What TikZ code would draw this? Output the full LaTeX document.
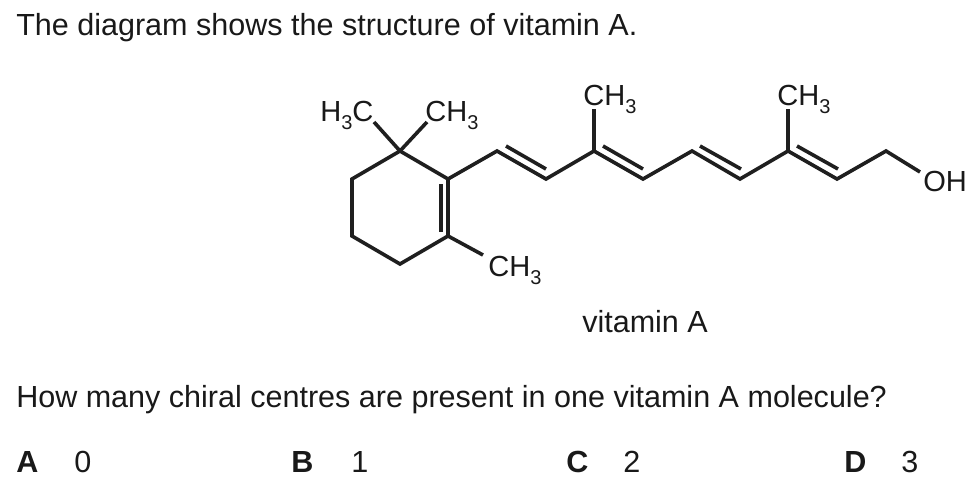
\documentclass[tikz,border=0pt]{standalone}
\usepackage{fontspec}
\setmainfont{Liberation Sans}
\newcommand{\subnum}{\raisebox{-0.55ex}{\fontsize{15}{16}\selectfont 3}}
\tikzset{
	txt/.style = {anchor=base west, inner sep=0pt, font=\fontsize{22.9}{26}\selectfont, text=black!90},
	choice/.style = {txt, font=\fontsize{22.9}{26}\selectfont\bfseries},
	grp/.style = {anchor=base west, inner sep=0pt, font=\fontsize{21.8}{24}\selectfont, text=black!90},
	atom/.style = {coordinate},
	bond/.style = {line width=2.7pt, draw=black!88, line join=miter, line cap=butt}
}
\begin{document}
\begin{tikzpicture}[x=0.75pt,y=-0.75pt]
	\useasboundingbox (0,0) rectangle (977,482);
	\fill[white] (0,0) rectangle (977,482);
	\node [txt] (title) at (16,35) {The diagram shows the structure of vitamin A.};
	\node [txt] (name) at (582,332) {vitamin A};
	\node [txt] (question) at (16,407) {How many chiral centres are present in one vitamin A molecule?};
	\node [choice] (la) at (16,472) {A};
	\node [txt] (va) at (74,472) {0};
	\node [choice] (lb) at (291,472) {B};
	\node [txt] (vb) at (351,472) {1};
	\node [choice] (lc) at (566,472) {C};
	\node [txt] (vc) at (623,472) {2};
	\node [choice] (ld) at (844,472) {D};
	\node [txt] (vd) at (901,472) {3};
	% ring
	\node [atom] (r1) at (400,151) {};
	\node [atom] (r2) at (448,179) {};
	\node [atom] (r3) at (448,236) {};
	\node [atom] (r4) at (400,264) {};
	\node [atom] (r5) at (352,236) {};
	\node [atom] (r6) at (352,179) {};
	% chain
	\node [atom] (c1) at (497,151) {};
	\node [atom] (c2) at (546,179) {};
	\node [atom] (c3) at (594,151) {};
	\node [atom] (c4) at (643,179) {};
	\node [atom] (c5) at (692,151) {};
	\node [atom] (c6) at (740,179) {};
	\node [atom] (c7) at (788,151) {};
	\node [atom] (c8) at (837,179) {};
	\node [atom] (c9) at (886,151) {};
	% second lines of the double bonds
	\node [atom] (d0a) at (441,184) {};
	\node [atom] (d0b) at (441,232) {};
	\node [atom] (d1a) at (506,146) {};
	\node [atom] (d1b) at (546,169) {};
	\node [atom] (d2a) at (603,146) {};
	\node [atom] (d2b) at (643,169) {};
	\node [atom] (d3a) at (700,146) {};
	\node [atom] (d3b) at (741,169) {};
	\node [atom] (d4a) at (797,146) {};
	\node [atom] (d4b) at (838,169) {};
	% ends of the side groups
	\node [atom] (e1) at (374,122) {};
	\node [atom] (e2) at (427,122) {};
	\node [atom] (e3) at (483,255) {};
	\node [atom] (e4) at (594,109) {};
	\node [atom] (e5) at (788,109) {};
	\node [atom] (e6) at (920,172) {};
	% groups
	\node [grp] (hc) at (320,121) {H\subnum C};
	\node [grp] (me1) at (425,121) {CH\subnum};
	\node [grp] (me2) at (488,276) {CH\subnum};
	\node [grp] (me3) at (583,105) {CH\subnum};
	\node [grp] (me4) at (777,105) {CH\subnum};
	\node [grp] (oh) at (923,191) {OH};
	% bonds
	\draw [bond] (r6) -- (r1) -- (r2) -- (r3) -- (r4) -- (r5) -- cycle;
	\draw [bond] (r2) -- (c1) -- (c2) -- (c3) -- (c4) -- (c5) -- (c6) -- (c7) -- (c8) -- (c9) -- (e6);
	\draw [bond] (d0a) -- (d0b);
	\draw [bond] (d1a) -- (d1b);
	\draw [bond] (d2a) -- (d2b);
	\draw [bond] (d3a) -- (d3b);
	\draw [bond] (d4a) -- (d4b);
	\draw [bond] (r1) -- (e1);
	\draw [bond] (r1) -- (e2);
	\draw [bond] (r3) -- (e3);
	\draw [bond] (c3) -- (e4);
	\draw [bond] (c7) -- (e5);
\end{tikzpicture}
\end{document}
